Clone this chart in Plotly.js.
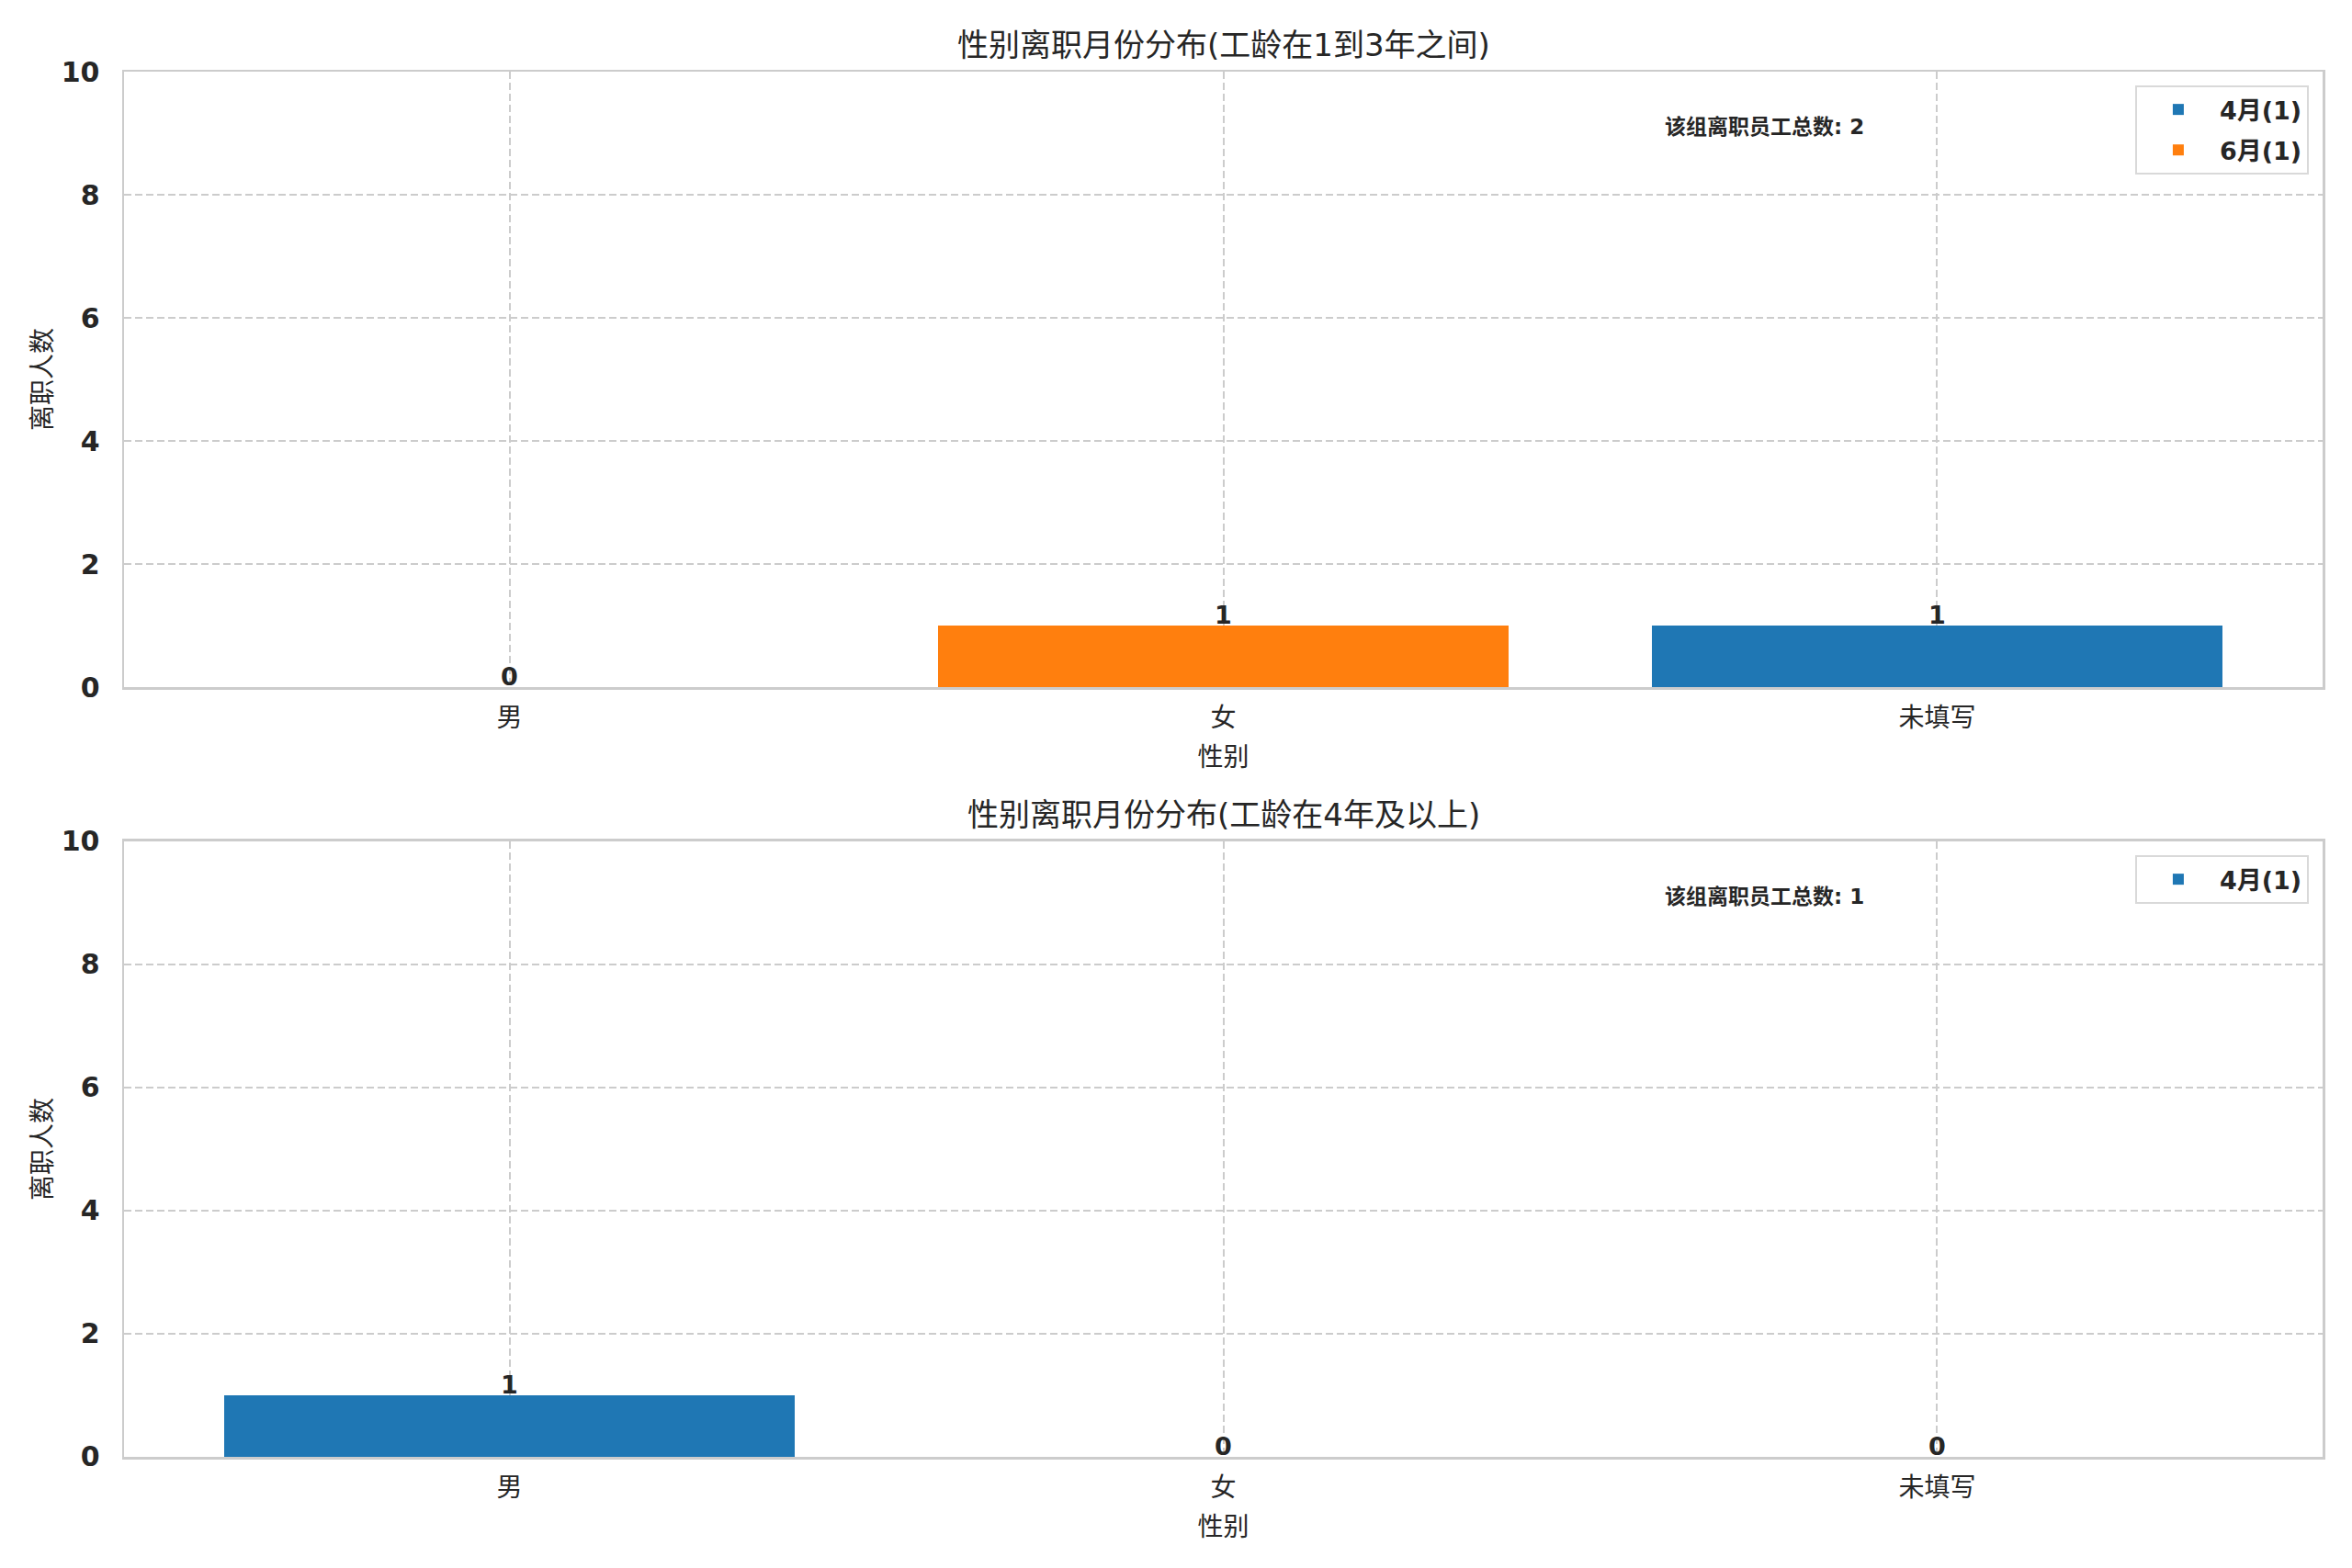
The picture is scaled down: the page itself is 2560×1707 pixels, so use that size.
<!DOCTYPE html>
<html>
<head>
<meta charset="utf-8">
<script src="https://cdn.plot.ly/plotly-3.0.1.min.js"></script>
<style>
  html, body {margin: 0; padding: 0; background: #fff;}
  #chart {width: 2560px; height: 1707px;}
</style>
</head>
<body>
<div id="chart"></div>
<script>
// categories on the x axis
const categories = ["男", "女", "未填写"];

// panel 1: 工龄在1到3年之间
const topTitle = "性别离职月份分布(工龄在1到3年之间)";
const topNames = ["4月(1)", "6月(1)"];
const topApr = [0, 0, 1];
const topJun = [0, 1, 0];
const topTotalLabel = "该组离职员工总数: 2";

// panel 2: 工龄在4年及以上
const bottomTitle = "性别离职月份分布(工龄在4年及以上)";
const bottomNames = ["4月(1)"];
const bottomApr = [1, 0, 0];
const bottomTotalLabel = "该组离职员工总数: 1";

const xLabel = "性别";
const yLabel = "离职人数";
const yTicks = [0, 2, 4, 6, 8, 10];

const PALETTE = ["#1f77b4", "#ff7f0e"];
const FONT = "DejaVu Sans, Noto Sans CJK SC, sans-serif";
const TEXT = "#262626";
const GRID = "#cccccc";

function panelTraces(seriesList, names, xa, ya, legendId) {
    return seriesList.map((vals, i) => ({
        type: "bar",
        x: categories,
        y: vals,
        name: names[i],
        width: 0.8,
        marker: {color: PALETTE[i % PALETTE.length], line: {width: 0}},
        xaxis: xa, yaxis: ya,
        legend: legendId,
        legendgroup: legendId + "_" + i,
        hoverinfo: "skip"
    }));
}

// total count label sitting on top of each category's bar
function totalLabels(seriesList, xa, ya) {
    const totals = categories.map((_, c) => seriesList.reduce((s, v) => s + v[c], 0));
    return categories.map((cat, c) => ({
        xref: xa, yref: ya,
        x: cat, y: totals[c],
        text: String(totals[c]),
        xanchor: "center", yanchor: "bottom",
        yshift: -6,
        showarrow: false,
        font: {size: 27, family: FONT, color: TEXT, weight: "bold"}
    }));
}

function xAxis(anchor) {
    return {
        anchor: anchor,
        domain: [0, 1],
        type: "category",
        range: [-0.54, 2.54],
        showgrid: true, gridcolor: GRID, gridwidth: 2, griddash: "8px,4px",
        showline: true, linecolor: GRID, linewidth: 2.5, mirror: true,
        zeroline: false,
        ticks: "",
        ticklabelstandoff: 7,
        tickfont: {size: 28, family: FONT, color: TEXT},
        title: {text: xLabel, font: {size: 28, family: FONT, color: TEXT}, standoff: 18},
        automargin: false
    };
}

function yAxis(domain, anchor) {
    return {
        anchor: anchor,
        domain: domain,
        range: [0, 10],
        tickvals: yTicks,
        showgrid: true, gridcolor: GRID, gridwidth: 2, griddash: "8px,4px",
        showline: true, linecolor: GRID, linewidth: 2.5, mirror: true,
        zeroline: false,
        ticks: "",
        ticklabelstandoff: 18,
        tickfont: {size: 30, family: FONT, color: TEXT, weight: "bold"},
        title: {text: yLabel, font: {size: 28, family: FONT, color: TEXT}, standoff: 2},
        automargin: false
    };
}

const legendStyle = (y) => ({
    x: 0.9937, xanchor: "right",
    y: y, yanchor: "top",
    bgcolor: "#ffffff",
    bordercolor: "#d9d9d9",
    borderwidth: 2,
    itemwidth: 80,
    tracegroupgap: 6,
    font: {size: 27, family: FONT, color: TEXT, weight: "bold"},
    traceorder: "grouped"
});

const topSeries = [topApr, topJun];
const bottomSeries = [bottomApr];

const traces = [
    ...panelTraces(topSeries, topNames, "x", "y", "legend"),
    ...panelTraces(bottomSeries, bottomNames, "x2", "y2", "legend2")
];

const layout = {
    width: 2560, height: 1707,
    margin: {l: 135, r: 32, t: 78, b: 121},
    paper_bgcolor: "#ffffff",
    plot_bgcolor: "#ffffff",
    barmode: "stack",
    showlegend: true,
    xaxis: xAxis("y"),
    yaxis: yAxis([0.5557, 1], "x"),
    xaxis2: xAxis("y2"),
    yaxis2: yAxis([0, 0.4443], "x2"),
    legend: legendStyle(0.990),
    legend2: legendStyle(0.4343),
    annotations: [
        {text: topTitle, xref: "paper", yref: "paper", x: 0.5, y: 1.0192,
         xanchor: "center", yanchor: "middle", showarrow: false,
         font: {size: 34, family: FONT, color: TEXT}},
        {text: bottomTitle, xref: "paper", yref: "paper", x: 0.5, y: 0.4635,
         xanchor: "center", yanchor: "middle", showarrow: false,
         font: {size: 34, family: FONT, color: TEXT}},
        {text: topTotalLabel, xref: "x domain", yref: "y domain", x: 0.7, y: 0.9,
         xanchor: "left", yanchor: "bottom", yshift: -8, showarrow: false,
         font: {size: 23, family: FONT, color: TEXT, weight: "bold"}},
        {text: bottomTotalLabel, xref: "x2 domain", yref: "y2 domain", x: 0.7, y: 0.9,
         xanchor: "left", yanchor: "bottom", yshift: -8, showarrow: false,
         font: {size: 23, family: FONT, color: TEXT, weight: "bold"}},
        ...totalLabels(topSeries, "x", "y"),
        ...totalLabels(bottomSeries, "x2", "y2")
    ]
};

Plotly.newPlot("chart", traces, layout, {displayModeBar: false, staticPlot: true});
</script>
</body>
</html>
